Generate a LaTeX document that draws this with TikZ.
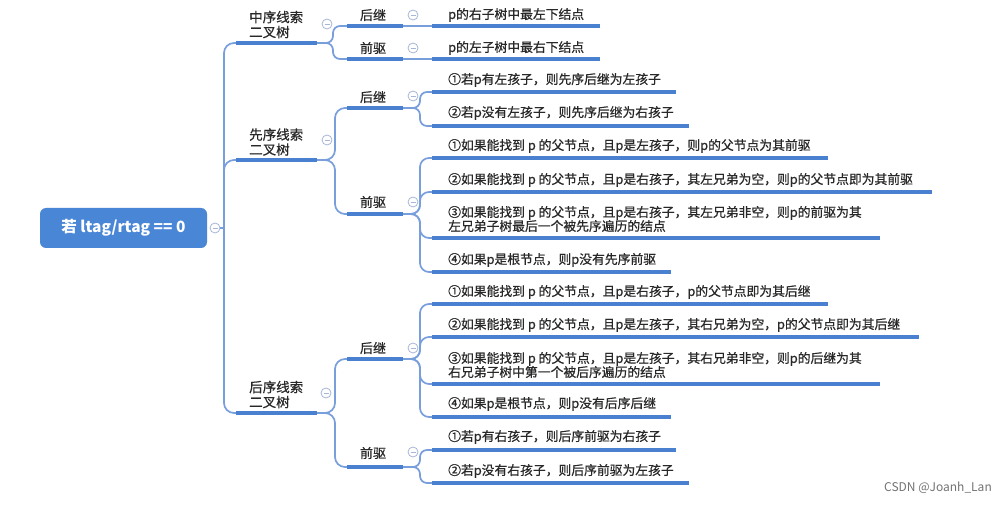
\documentclass[tikz,border=0pt]{standalone}
\usepackage{fontspec}
\setmainfont{Noto Sans CJK SC}
\newfontfamily\medfont{Noto Sans CJK SC}[FakeBold=0.7]
\definecolor{ulblue}{RGB}{74,128,208}
\definecolor{cnblue}{RGB}{120,158,220}
\definecolor{icongray}{RGB}{165,182,215}
\definecolor{txt}{RGB}{40,40,40}
\definecolor{rootblue}{RGB}{74,134,214}
\tikzset{
  ul/.style={draw=ulblue, line width=3.4pt},
  cn/.style={draw=cnblue, line width=1.7pt, rounded corners=7pt},
  leaf/.style={anchor=west, inner sep=0pt, text=txt, font=\medfont\fontsize{12.8}{14}\selectfont, align=left},
  lvtwo/.style={inner sep=0pt, text=txt, font=\medfont\fontsize{13}{15}\selectfont},
  lvone/.style={anchor=west, inner sep=0pt, text=txt, font=\medfont\fontsize{13.5}{15}\selectfont, align=left},
  icon/.style={circle, draw=icongray, line width=0.8pt, minimum size=10pt, inner sep=0pt,
    path picture={\draw[icongray, line width=0.8pt]
      ([xshift=-2.5pt]path picture bounding box.center) -- ([xshift=2.5pt]path picture bounding box.center);}},
  rootbox/.style={rectangle, rounded corners=6pt, fill=rootblue, text=white,
    minimum width=167pt, minimum height=40pt, inner sep=0pt, font=\bfseries\fontsize{15.5}{16}\selectfont},
}
\begin{document}
\begin{tikzpicture}[x=1pt, y=-1pt]
\useasboundingbox (0,0) rectangle (1007,505);
\fill[white] (0,0) rectangle (1007,505);

% root
\node[rootbox] (root) at (123.5,228) {若 ltag/rtag == 0};
\node[icon] (rooticon) at (215,228) {};
\coordinate (trunk) at (224,228);

% level 1
\node[lvone] (L1a) at (249,24.5) {中序线索\\二叉树};
\node[lvone] (L1b) at (249,142) {先序线索\\二叉树};
\node[lvone] (L1c) at (249,394.5) {后序线索\\二叉树};
\node[icon] (L1ai) at (327,24) {};
\node[icon] (L1bi) at (327,140) {};
\node[icon] (L1ci) at (326,393) {};
\coordinate (L1as) at (236,43);  \coordinate (L1ae) at (317,43);
\coordinate (L1bs) at (236,160); \coordinate (L1be) at (317,160);
\coordinate (L1cs) at (236,413); \coordinate (L1ce) at (317,413);

% level 2
\node[lvtwo] (A1) at (373,15) {后继};
\node[lvtwo] (A2) at (373,48) {前驱};
\node[lvtwo] (B1) at (373,97) {后继};
\node[lvtwo] (B2) at (373,202) {前驱};
\node[lvtwo] (C1) at (373,348) {后继};
\node[lvtwo] (C2) at (373,453) {前驱};
\node[icon] (A1i) at (413,15) {};
\node[icon] (A2i) at (413,48) {};
\node[icon] (B1i) at (413,96) {};
\node[icon] (B2i) at (413,202) {};
\node[icon] (C1i) at (413,348) {};
\node[icon] (C2i) at (413,452) {};
\coordinate (A1s) at (347,26);  \coordinate (A1e) at (403,26);
\coordinate (A2s) at (347,59);  \coordinate (A2e) at (403,59);
\coordinate (B1s) at (347,108); \coordinate (B1e) at (403,108);
\coordinate (B2s) at (347,214); \coordinate (B2e) at (403,214);
\coordinate (C1s) at (347,359); \coordinate (C1e) at (403,359);
\coordinate (C2s) at (347,467); \coordinate (C2e) at (403,467);

% leaves
\node[leaf] (a1) at (448,15) {p的右子树中最左下结点};
\node[leaf] (a2) at (448,48) {p的左子树中最右下结点};
\node[leaf] (b11) at (448,80) {①若p有左孩子，则先序后继为左孩子};
\node[leaf] (b12) at (448,113) {②若p没有左孩子，则先序后继为右孩子};
\node[leaf] (b21) at (448,146) {①如果能找到 p 的父节点，且p是左孩子，则p的父节点为其前驱};
\node[leaf] (b22) at (448,180) {②如果能找到 p 的父节点，且p是右孩子，其左兄弟为空，则p的父节点即为其前驱};
\node[leaf] (b23) at (448,219) {③如果能找到 p 的父节点，且p是右孩子，其左兄弟非空，则p的前驱为其\\左兄弟子树最后一个被先序遍历的结点};
\node[leaf] (b24) at (448,260) {④如果p是根节点，则p没有先序前驱};
\node[leaf] (c11) at (448,292) {①如果能找到 p 的父节点，且p是右孩子，p的父节点即为其后继};
\node[leaf] (c12) at (448,325) {②如果能找到 p 的父节点，且p是左孩子，其右兄弟为空，p的父节点即为其后继};
\node[leaf] (c13) at (448,365) {③如果能找到 p 的父节点，且p是左孩子，其右兄弟非空，则p的后继为其\\右兄弟子树中第一个被后序遍历的结点};
\node[leaf] (c14) at (448,404) {④如果p是根节点，则p没有后序后继};
\node[leaf] (c21) at (448,437) {①若p有右孩子，则后序前驱为右孩子};
\node[leaf] (c22) at (448,471) {②若p没有右孩子，则后序前驱为左孩子};

\coordinate (a1s) at (432,26);   \coordinate (a1e) at (600,26);
\coordinate (a2s) at (432,59);   \coordinate (a2e) at (600,59);
\coordinate (b11s) at (432,92);  \coordinate (b11e) at (676,92);
\coordinate (b12s) at (432,126); \coordinate (b12e) at (689,126);
\coordinate (b21s) at (432,158); \coordinate (b21e) at (828,158);
\coordinate (b22s) at (432,192); \coordinate (b22e) at (932,192);
\coordinate (b23s) at (432,238); \coordinate (b23e) at (880,238);
\coordinate (b24s) at (432,272); \coordinate (b24e) at (671,272);
\coordinate (c11s) at (432,304); \coordinate (c11e) at (828,304);
\coordinate (c12s) at (432,337); \coordinate (c12e) at (919,337);
\coordinate (c13s) at (432,384); \coordinate (c13e) at (880,384);
\coordinate (c14s) at (432,417); \coordinate (c14e) at (671,417);
\coordinate (c21s) at (432,450); \coordinate (c21e) at (676,450);
\coordinate (c22s) at (432,483); \coordinate (c22e) at (689,483);

% connectors: root and trunk
\draw[cn] (rooticon.east) -- (trunk);
\draw[cn, rounded corners=10pt] (trunk) |- (L1as);
\draw[cn, rounded corners=10pt] (trunk) |- (L1bs);
\draw[cn, rounded corners=10pt] (trunk) |- (L1cs);

% level 1 -> level 2
\draw[cn] (L1ae) -- ++(16,0) |- (A1s);
\draw[cn] (L1ae) -- ++(16,0) |- (A2s);
\draw[cn, rounded corners=10pt] (L1be) -- ++(18,0) |- (B1s);
\draw[cn, rounded corners=10pt] (L1be) -- ++(18,0) |- (B2s);
\draw[cn, rounded corners=10pt] (L1ce) -- ++(18,0) |- (C1s);
\draw[cn, rounded corners=10pt] (L1ce) -- ++(18,0) |- (C2s);

% level 2 -> leaves
\draw[cn] (A1e) -- (a1s);
\draw[cn] (A2e) -- (a2s);
\foreach \c in {b11,b12} \draw[cn] (B1e) -- ++(17,0) |- (\c s);
\foreach \c in {b21,b22,b23,b24} \draw[cn, rounded corners=9pt] (B2e) -- ++(17,0) |- (\c s);
\foreach \c in {c11,c12,c13,c14} \draw[cn, rounded corners=9pt] (C1e) -- ++(17,0) |- (\c s);
\foreach \c in {c21,c22} \draw[cn] (C2e) -- ++(17,0) |- (\c s);

% underlines
\foreach \u in {L1a,L1b,L1c,A1,A2,B1,B2,C1,C2,a1,a2,b11,b12,b21,b22,b23,b24,c11,c12,c13,c14,c21,c22}
  \draw[ul] (\u s) -- (\u e);

\node[anchor=east, text=black!55, inner sep=0pt, font=\fontsize{12}{12}\selectfont] (csdn) at (992,488) {CSDN @Joanh\_Lan};
\end{tikzpicture}
\end{document}
